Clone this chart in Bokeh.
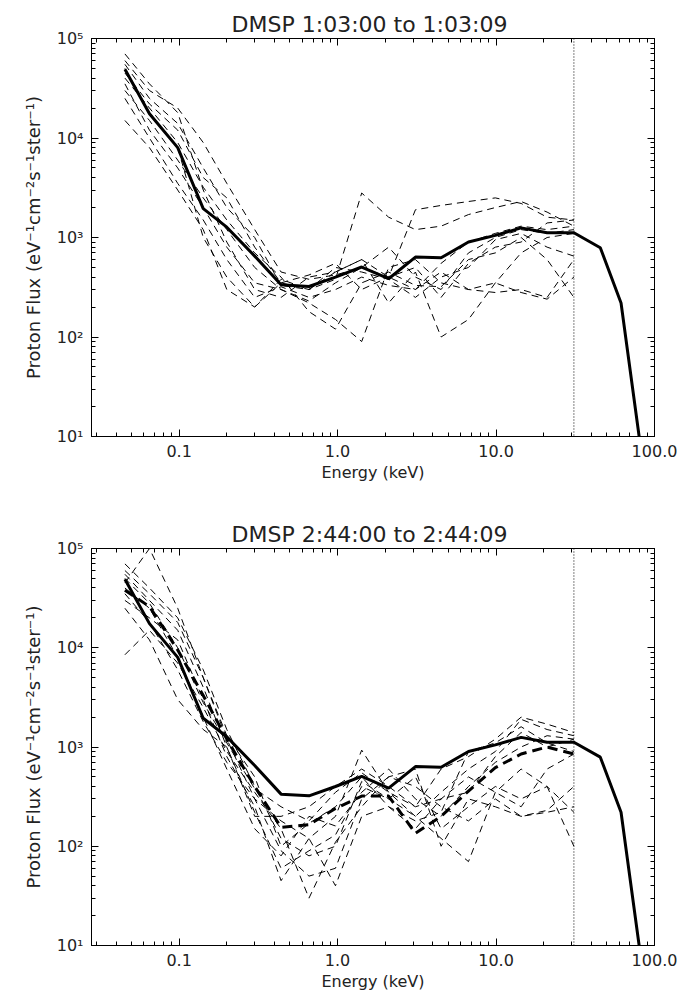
from bokeh.plotting import figure
from bokeh.models import LogAxis, FixedTicker, Span
from bokeh.layouts import column
from bokeh.embed import file_html
from bokeh.resources import INLINE

# ---------------- data ----------------
top_title = "DMSP  1:03:00 to 1:03:09"
bottom_title = "DMSP  2:44:00 to 2:44:09"

# energy channels of the measured spectra (keV)
energy = [0.0455, 0.065, 0.098, 0.142, 0.20, 0.30, 0.44, 0.66, 0.97,
          1.42, 2.1, 3.1, 4.5, 6.7, 9.9, 14.4, 21.0, 31.0]

# reference (solid) spectrum, same in both panels
model_energy = [0.0455, 0.065, 0.098, 0.142, 0.20, 0.30, 0.44, 0.66, 0.97,
                1.42, 2.1, 3.1, 4.5, 6.7, 9.9, 14.4, 21.0, 31.0, 45.5, 61.5, 80.0]
model_flux = [49000, 17500, 8000, 1950, 1270, 650, 335, 322, 400,
              505, 385, 635, 625, 900, 1050, 1250, 1115, 1115, 790, 220, 10]

# individual spectra, top panel
top_spectra = [
    [60000, 30000, 20000, 9000, 3500, 1200, 450, 380, 420, 500, 400, 1900, 2100, 2300, 2500, 2200, 1600, 1500],
    [45000, 22000, 12000, 4000, 2500, 800, 350, 300, 380, 2800, 1600, 1200, 1300, 1700, 2000, 2300, 1800, 1300],
    [30000, 15000, 6000, 2500, 1200, 500, 300, 220, 150, 90, 500, 600, 350, 300, 280, 300, 250, 600],
    [70000, 35000, 18000, 3000, 900, 300, 250, 400, 450, 600, 220, 450, 100, 150, 350, 700, 1000, 1100],
    [25000, 10000, 3500, 1500, 600, 250, 320, 250, 300, 400, 330, 300, 550, 900, 1100, 1300, 1200, 1300],
    [50000, 18000, 8000, 1000, 400, 200, 350, 420, 550, 300, 400, 500, 250, 550, 800, 900, 1400, 1500],
    [15000, 8000, 3000, 1200, 300, 200, 380, 300, 450, 600, 400, 300, 450, 300, 350, 280, 240, 400],
    [40000, 20000, 9000, 3200, 1500, 700, 400, 180, 120, 350, 450, 330, 320, 600, 700, 1000, 600, 250],
    [55000, 25000, 14000, 5000, 2000, 1000, 330, 300, 500, 450, 380, 250, 400, 500, 950, 1100, 800, 650],
    [35000, 12000, 5000, 2000, 800, 350, 300, 230, 350, 500, 800, 400, 300, 700, 1000, 1200, 1100, 1200],
]

# individual spectra, bottom panel
bottom_spectra = [
    [70000, 40000, 20000, 6000, 1500, 400, 120, 80, 100, 450, 300, 200, 350, 600, 900, 1900, 1500, 1300],
    [45000, 100000, 25000, 5000, 1200, 300, 90, 50, 60, 300, 500, 400, 250, 180, 300, 200, 220, 250],
    [30000, 20000, 12000, 3000, 800, 250, 45, 120, 200, 930, 350, 200, 120, 70, 350, 600, 400, 100],
    [8500, 15000, 7000, 2500, 900, 350, 150, 30, 110, 250, 500, 600, 100, 300, 250, 200, 230, 400],
    [55000, 30000, 15000, 4000, 1000, 200, 200, 250, 400, 600, 400, 250, 600, 800, 1200, 2000, 1700, 1400],
    [40000, 25000, 8000, 2000, 600, 150, 80, 200, 160, 350, 600, 300, 200, 400, 700, 1000, 1300, 1200],
    [35000, 18000, 6000, 1800, 700, 300, 180, 120, 40, 200, 250, 150, 300, 500, 350, 250, 600, 850],
    [60000, 35000, 18000, 5000, 1300, 500, 100, 170, 250, 500, 250, 180, 220, 900, 1100, 1600, 1100, 900],
    [25000, 12000, 3000, 1500, 1000, 220, 60, 90, 130, 400, 300, 500, 150, 250, 400, 300, 400, 220],
    [50000, 28000, 10000, 2800, 1100, 380, 250, 180, 350, 550, 350, 250, 300, 350, 800, 1400, 1000, 1200],
]

# average spectrum (thick dashed), bottom panel
bottom_mean = [38000, 26000, 9500, 3300, 1200, 400, 155, 165, 240, 320, 320, 135, 200, 360, 620, 850, 1000, 850]

cutoff_energy = 31.0

x_ticks = [0.1, 1.0, 10.0, 100.0]
x_tick_labels = ["0.1", "1.0", "10.0", "100.0"]
y_ticks = [10, 100, 1000, 10000, 100000]
y_tick_labels = ["10\u00b9", "10\u00b2", "10\u00b3", "10\u2074", "10\u2075"]
x_minor = [m * 10.0 ** d for d in range(-2, 2) for m in range(2, 10)]
y_minor = [m * 10.0 ** d for d in range(1, 5) for m in range(2, 10)]

x_label = "Energy (keV)"
y_label = "Proton Flux (eV\u207b\u00b9cm\u207b\u00b2s\u207b\u00b9ster\u207b\u00b9)"

FONT = "DejaVu Sans"


def style_axis(ax, ticks, minor, overrides, show_labels):
    ax.ticker = FixedTicker(ticks=ticks, minor_ticks=minor)
    ax.major_tick_in = 7
    ax.major_tick_out = 0
    ax.minor_tick_in = 4
    ax.minor_tick_out = 0
    ax.axis_line_color = "black"
    ax.major_tick_line_color = "black"
    ax.minor_tick_line_color = "black"
    ax.major_label_text_font = FONT
    if show_labels:
        ax.major_label_overrides = overrides
        ax.major_label_text_color = "#222222"
        ax.major_label_text_font_size = "16px"
        ax.major_label_standoff = 8
    else:
        ax.major_label_text_color = None
        ax.major_label_text_font_size = "4px"
        ax.major_label_standoff = 0


def make_panel(title, spectra, mean, h, bl, br, bt, bb):
    p = figure(width=684, height=h, x_axis_type="log", y_axis_type="log",
               x_range=(0.028, 100), y_range=(10, 1e5),
               output_backend="svg", toolbar_location=None,
               min_border_left=bl, min_border_right=br,
               min_border_top=bt, min_border_bottom=bb)
    p.title.text = title
    p.title.align = "center"
    p.title.text_font = FONT
    p.title.text_font_size = "22px"
    p.title.text_font_style = "normal"
    p.title.text_color = "#222222"
    p.title.standoff = 4
    p.xgrid.visible = False
    p.ygrid.visible = False
    p.outline_line_color = "black"
    p.outline_line_alpha = 1.0

    style_axis(p.xaxis[0], x_ticks, x_minor, dict(zip(x_ticks, x_tick_labels)), True)
    style_axis(p.yaxis[0], y_ticks, y_minor, dict(zip(y_ticks, y_tick_labels)), True)
    p.xaxis.axis_label = x_label
    p.yaxis.axis_label = y_label
    p.xaxis[0].axis_label_text_font_size = "16px"
    p.yaxis[0].axis_label_text_font_size = "18px"
    for ax in (p.xaxis[0], p.yaxis[0]):
        ax.axis_label_text_font = FONT
        ax.axis_label_text_font_style = "normal"
        ax.axis_label_text_color = "#222222"
    p.xaxis[0].axis_label_standoff = 3
    p.yaxis[0].axis_label_standoff = 10

    top_ax = LogAxis()
    style_axis(top_ax, x_ticks, x_minor, {}, False)
    p.add_layout(top_ax, "above")
    right_ax = LogAxis()
    style_axis(right_ax, y_ticks, y_minor, {}, False)
    p.add_layout(right_ax, "right")

    for s in spectra:
        p.line(energy, s, line_color="black", line_width=1, line_dash="7 5")
    if mean is not None:
        p.line(energy, mean, line_color="black", line_width=3, line_dash="10 6")
    p.line(model_energy, model_flux, line_color="black", line_width=3)
    p.add_layout(Span(location=cutoff_energy, dimension="height",
                      line_color="black", line_width=1, line_dash="1 2"))
    return p


p1 = make_panel(top_title, top_spectra, None, 500, 88, 30, 38, 64)
p2 = make_panel(bottom_title, bottom_spectra, bottom_mean, 504, 91, 26, 48, 59)

layout = column(p1, p2, spacing=0)
open("out.html", "w").write(file_html(layout, INLINE))
